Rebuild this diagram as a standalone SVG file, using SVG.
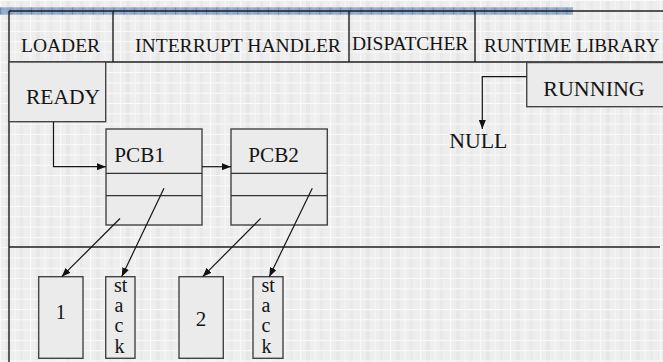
<svg xmlns="http://www.w3.org/2000/svg" width="663" height="362" viewBox="0 0 663 362" font-family="'Liberation Serif', 'Times New Roman', serif">
<defs>
<pattern id="bg" patternUnits="userSpaceOnUse" width="30" height="10.3">
<rect width="30" height="10.3" fill="#eeeeee"/>
<rect x="6" y="0" width="4" height="10.3" fill="#e7e7e7"/>
<rect x="20" y="0" width="3" height="10.3" fill="#e9e9e9"/>
<rect x="0" y="0" width="1.2" height="10.3" fill="#f8f8f8"/>
<rect x="14.5" y="0" width="1.2" height="10.3" fill="#f7f7f7"/>
<rect x="0" y="0" width="30" height="1" fill="#fafafa"/>
</pattern>
<pattern id="band" patternUnits="userSpaceOnUse" width="10.3" height="8">
<rect width="10.3" height="8" fill="#90a9cb"/>
<rect x="0" y="0" width="1" height="8" fill="#6c8ab3"/>
<rect x="4" y="0" width="2" height="8" fill="#9bb1cf"/>
</pattern>
<marker id="ah" markerUnits="userSpaceOnUse" markerWidth="9" markerHeight="7" refX="9" refY="3.5" orient="auto">
<path d="M0,0 L9,3.5 L0,7 z" fill="#111"/>
</marker>
<style>
.frame{stroke:#1e1e1e;stroke-width:1.4;fill:none}
.box{fill:#ebebeb;stroke:#444;stroke-width:1.4}
.div{stroke:#333;stroke-width:1.3}
.conn{stroke:#151515;stroke-width:1.2;fill:none}
.arr{marker-end:url(#ah)}
text{font-family:"Liberation Serif","Times New Roman",serif;fill:#141414}
</style>
</defs>
<rect width="663" height="362" fill="url(#bg)"/>
<rect x="0" y="7.3" width="573" height="7.4" fill="url(#band)"/>
<g id="frame">
<line class="frame" x1="9" y1="11" x2="663" y2="11"/>
<line class="frame" x1="9" y1="62" x2="663" y2="62"/>
<line class="frame" x1="9" y1="11" x2="9" y2="362"/>
<line class="frame" x1="9" y1="247" x2="660" y2="247"/>
<line class="frame" x1="113" y1="11" x2="113" y2="62"/>
<line class="frame" x1="349" y1="11" x2="349" y2="62"/>
<line class="frame" x1="475" y1="11" x2="475" y2="62"/>
</g>
<g id="loader"><text x="21" y="52" font-size="19.5">LOADER</text></g>
<g id="interrupt-handler"><text x="135" y="52" font-size="19.6">INTERRUPT HANDLER</text></g>
<g id="dispatcher"><text x="352" y="50" font-size="19.5">DISPATCHER</text></g>
<g id="runtime-library"><text x="484" y="52" font-size="19.2">RUNTIME LIBRARY</text></g>
<g id="ready">
<rect class="box" x="9" y="62" width="96.7" height="59.7"/>
<text x="26" y="103.5" font-size="21.5">READY</text>
</g>
<g id="running">
<rect class="box" x="526.7" y="62.5" width="140" height="44.2"/>
<text x="543.3" y="96" font-size="22">RUNNING</text>
</g>
<g id="null"><text x="449.3" y="148.3" font-size="21.8">NULL</text></g>
<g id="pcb1">
<rect class="box" x="106" y="129" width="96" height="96"/>
<line class="div" x1="106" y1="173.3" x2="202" y2="173.3"/>
<line class="div" x1="106" y1="195.7" x2="202" y2="195.7"/>
<text x="114.3" y="162" font-size="21.2">PCB1</text>
</g>
<g id="pcb2">
<rect class="box" x="231" y="129" width="96.3" height="96"/>
<line class="div" x1="231" y1="173.3" x2="327.3" y2="173.3"/>
<line class="div" x1="231" y1="195.7" x2="327.3" y2="195.7"/>
<text x="248.3" y="162" font-size="21.2">PCB2</text>
</g>
<g id="mem1">
<rect class="box" x="38.7" y="276.7" width="44.3" height="81.6"/>
<text x="60.8" y="319" font-size="20" text-anchor="middle">1</text>
</g>
<g id="stack1">
<rect class="box" x="105.7" y="276.7" width="29.3" height="81.6"/>
<text x="114" y="291.5" font-size="20">st</text>
<text x="114.5" y="311.7" font-size="20">a</text>
<text x="114.5" y="331.7" font-size="20">c</text>
<text x="114.5" y="353" font-size="20">k</text>
</g>
<g id="mem2">
<rect class="box" x="179" y="276.7" width="44.3" height="81.6"/>
<text x="201" y="325.5" font-size="21" text-anchor="middle">2</text>
</g>
<g id="stack2">
<rect class="box" x="253" y="276.7" width="30" height="81.6"/>
<text x="261.5" y="291.5" font-size="20">st</text>
<text x="261.5" y="311.7" font-size="20">a</text>
<text x="261.5" y="331.7" font-size="20">c</text>
<text x="261.5" y="353" font-size="20">k</text>
</g>
<g id="connectors">
<path class="conn arr" d="M53.5,122 V166.7 H106"/>
<path class="conn arr" d="M202,166.7 H231"/>
<path class="conn arr" d="M526.7,76.7 H482.3 V129"/>
<path class="conn arr" d="M120,218.5 L61.7,276.7"/>
<path class="conn arr" d="M164,188.3 L121.7,276.7"/>
<path class="conn arr" d="M260.7,218.3 L202.7,276.7"/>
<path class="conn arr" d="M312.3,188.3 L269.3,276.7"/>
</g>
</svg>
